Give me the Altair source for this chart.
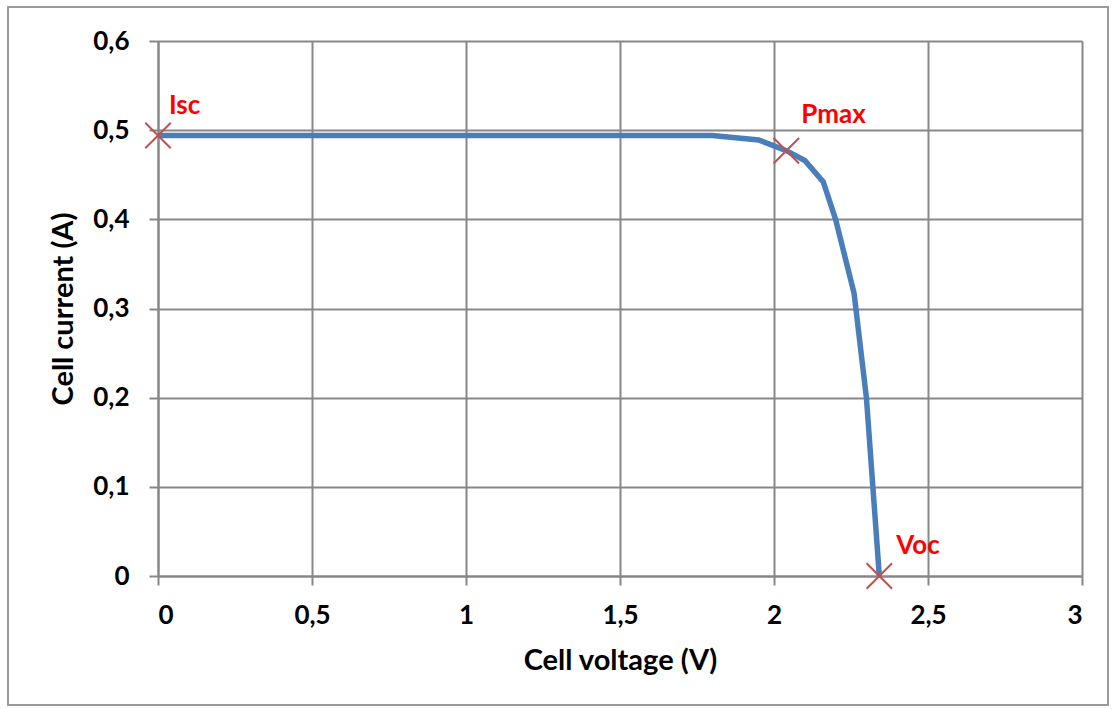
import altair as alt
import pandas as pd

# I-V curve data
voltage = [0.0, 1.8, 1.95, 2.04, 2.10, 2.16, 2.20, 2.26, 2.30, 2.342]
current = [0.494, 0.494, 0.489, 0.477, 0.466, 0.442, 0.400, 0.317, 0.200, 0.0]

# Marked points
pt_names = ["Isc", "Pmax", "Voc"]
pt_v = [0.0, 2.04, 2.342]
pt_i = [0.494, 0.477, 0.0]

x_ticks = [0, 0.5, 1, 1.5, 2, 2.5, 3]
y_ticks = [0, 0.1, 0.2, 0.3, 0.4, 0.5, 0.6]

curve = pd.DataFrame({"V": voltage, "I": current})
pts = pd.DataFrame({"name": pt_names, "V": pt_v, "I": pt_i})

FONT = "Lato"
GRID = "#878787"
label_expr = "replace(format(datum.value, '~g'), '.', ',')"

xenc = alt.X("V:Q", scale=alt.Scale(domain=[0, 3], nice=False),
             axis=alt.Axis(values=x_ticks, labelExpr=label_expr, title="Cell voltage (V)",
                           grid=True, gridColor=GRID, gridWidth=2,
                           domainColor=GRID, domainWidth=2, tickColor=GRID, tickWidth=2,
                           tickSize=9, labelPadding=17, titlePadding=18,
                           labelFont=FONT, labelFontSize=26, labelFontWeight="bold", labelColor="black",
                           titleFont=FONT, titleFontSize=29, titleFontWeight="bold", titleColor="black"))
yenc = alt.Y("I:Q", scale=alt.Scale(domain=[0, 0.6], nice=False),
             axis=alt.Axis(values=y_ticks, labelExpr=label_expr, title="Cell current (A)",
                           grid=True, gridColor=GRID, gridWidth=2,
                           domainColor=GRID, domainWidth=2, tickColor=GRID, tickWidth=2,
                           tickSize=9, labelPadding=20, titlePadding=14,
                           labelFont=FONT, labelFontSize=26, labelFontWeight="bold", labelColor="black",
                           titleFont=FONT, titleFontSize=29, titleFontWeight="bold", titleColor="black"))

line = alt.Chart(curve).mark_line(color="#4a7ebb", strokeWidth=5.5).encode(x=xenc, y=yenc)

markers = alt.Chart(pts).mark_point(
    shape="M-1,-1L1,1M-1,1L1,-1", size=650, stroke="#c0504d", strokeWidth=2, filled=False, opacity=1
).encode(x="V:Q", y="I:Q")

text_style = dict(color="#ff0000", font=FONT, fontSize=26, fontWeight="bold", align="left", baseline="middle")
lab_isc = alt.Chart(pts[pts.name == "Isc"]).mark_text(dx=11, dy=-30, **text_style).encode(x="V:Q", y="I:Q", text="name:N")
lab_pmax = alt.Chart(pts[pts.name == "Pmax"]).mark_text(dx=15, dy=-36, **text_style).encode(x="V:Q", y="I:Q", text="name:N")
lab_voc = alt.Chart(pts[pts.name == "Voc"]).mark_text(dx=17, dy=-30, **text_style).encode(x="V:Q", y="I:Q", text="name:N")

frame = alt.Chart(pd.DataFrame({"a": [0]})).mark_rect(
    fill=None, stroke="#9a9a9a", strokeWidth=2, clip=False
).encode(x=alt.value(-150), x2=alt.value(950), y=alt.value(-34), y2=alt.value(664))

chart = alt.layer(frame, line, markers, lab_isc, lab_pmax, lab_voc).properties(
    width=924, height=535,
    autosize=alt.AutoSizeParams(type="none"),
    padding={"left": 158, "top": 41, "right": 31, "bottom": 133},
).configure_view(stroke=GRID, strokeWidth=2).configure(background="white")

chart.save("out.html", embed_options={"renderer": "svg", "actions": False})
